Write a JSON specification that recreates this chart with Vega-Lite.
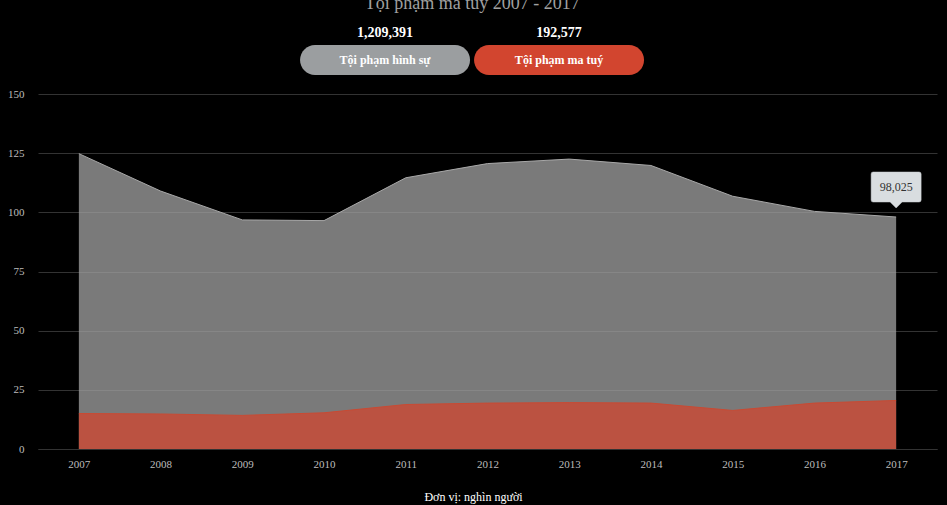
{
  "$schema": "https://vega.github.io/schema/vega-lite/v6.json",
  "background": "#000000",
  "padding": {"left": 7, "top": -5, "right": 12, "bottom": 6},
  "title": {
    "text": "Tội phạm ma túy 2007 - 2017",
    "color": "#a0a0a0",
    "font": "Liberation Serif",
    "fontSize": 18,
    "fontWeight": "normal",
    "anchor": "middle",
    "offset": 13
  },
  "config": {
    "view": {"stroke": null},
    "locale": {"number": {"decimal": ",", "thousands": ".", "grouping": [3], "currency": ["", ""]}}
  },
  "spacing": 13,
  "vconcat": [
    {
      "width": 692,
      "height": 30,
      "data": {"values": [
        {"series": "Tội phạm hình sự", "total": "1,209,391"},
        {"series": "Tội phạm ma tuý", "total": "192,577"}
      ]},
      "encoding": {
        "x": {"field": "series", "type": "nominal", "sort": null, "axis": null,
              "scale": {"paddingInner": 0.023, "paddingOuter": 1, "align": 0.753}}
      },
      "layer": [
        {"mark": {"type": "bar", "cornerRadius": 15},
         "encoding": {"color": {"field": "series", "type": "nominal", "legend": null,
           "scale": {"domain": ["Tội phạm hình sự", "Tội phạm ma tuý"], "range": ["#9b9ea0", "#d2452f"]}}}},
        {"mark": {"type": "text", "color": "#ffffff", "fontWeight": "bold", "fontSize": 12, "font": "Liberation Serif"},
         "encoding": {"text": {"field": "series"}}},
        {"mark": {"type": "text", "color": "#ffffff", "fontWeight": "bold", "fontSize": 14, "font": "Liberation Serif", "dy": -27},
         "encoding": {"text": {"field": "total"}}}
      ]
    },
    {
      "width": 899,
      "height": 355,
      "data": {"values": [
        {"year": "2007", "hinh_su": 124.8, "ma_tuy": 15.0},
        {"year": "2008", "hinh_su": 109.0, "ma_tuy": 14.8},
        {"year": "2009", "hinh_su": 96.8, "ma_tuy": 14.2},
        {"year": "2010", "hinh_su": 96.5, "ma_tuy": 15.3},
        {"year": "2011", "hinh_su": 114.6, "ma_tuy": 18.8},
        {"year": "2012", "hinh_su": 120.6, "ma_tuy": 19.4},
        {"year": "2013", "hinh_su": 122.5, "ma_tuy": 19.6},
        {"year": "2014", "hinh_su": 119.8, "ma_tuy": 19.4},
        {"year": "2015", "hinh_su": 106.8, "ma_tuy": 16.3},
        {"year": "2016", "hinh_su": 100.4, "ma_tuy": 19.4},
        {"year": "2017", "hinh_su": 98.025, "ma_tuy": 20.5}
      ]},
      "encoding": {
        "x": {"field": "year", "type": "ordinal", "scale": {"type": "point", "padding": 0.5},
          "axis": {"labelAngle": 0, "ticks": false, "grid": false, "domainColor": "#333333",
            "labelColor": "#bdbdbd", "labelFont": "Liberation Serif", "labelFontSize": 11, "labelPadding": 9,
            "title": "Đơn vị: nghìn người", "titleColor": "#ffffff", "titleFont": "Liberation Serif",
            "titleFontSize": 12, "titleFontWeight": "normal", "titlePadding": 22, "titleX": 435}}
      },
      "layer": [
        {"mark": {"type": "area", "color": "#a3a3a3", "fillOpacity": 0.75, "line": {"color": "#a8a8a8", "strokeWidth": 1}},
         "encoding": {"y": {"field": "hinh_su", "type": "quantitative", "scale": {"domain": [0, 150], "nice": false},
           "axis": {"values": [0, 25, 50, 75, 100, 125, 150], "grid": true, "gridColor": "#333333", "domain": false,
             "ticks": false, "labelColor": "#bdbdbd", "labelFont": "Liberation Serif", "labelFontSize": 11,
             "labelPadding": 14, "title": null}}}},
        {"mark": {"type": "area", "color": "#d2452f", "fillOpacity": 0.75, "line": {"color": "#c94a33", "strokeWidth": 1}},
         "encoding": {"y": {"field": "ma_tuy", "type": "quantitative", "scale": {"domain": [0, 150], "nice": false}}}},
        {"transform": [{"filter": "datum.year == '2017'"}],
         "mark": {"type": "point", "filled": true, "opacity": 1, "color": "#d9dde0", "stroke": "#c8ccd0", "strokeWidth": 0.5, "size": 4,
           "shape": "M -23 -45 L 23 -45 Q 25 -45 25 -43 L 25 -17 Q 25 -15 23 -15 L 6 -15 L 0 -9 L -6 -15 L -23 -15 Q -25 -15 -25 -17 L -25 -43 Q -25 -45 -23 -45 Z"},
         "encoding": {"y": {"field": "hinh_su", "type": "quantitative", "scale": {"domain": [0, 150], "nice": false}}}},
        {"transform": [{"filter": "datum.year == '2017'"}],
         "mark": {"type": "text", "dy": -30, "color": "#333333", "font": "Liberation Serif", "fontSize": 12},
         "encoding": {"y": {"field": "hinh_su", "type": "quantitative", "scale": {"domain": [0, 150], "nice": false}},
           "text": {"field": "hinh_su", "type": "quantitative", "format": ".3f"}}}
      ]
    }
  ]
}
